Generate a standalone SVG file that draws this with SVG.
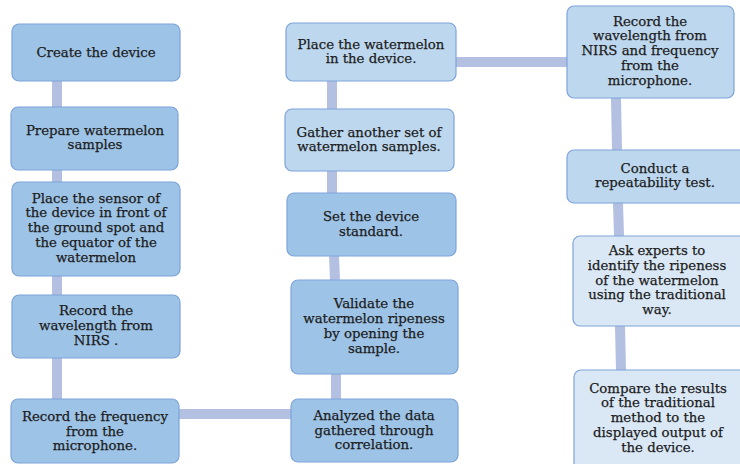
<svg xmlns="http://www.w3.org/2000/svg" width="740" height="464" viewBox="0 0 740 464">
<style>
.n rect{stroke:#7ea3da;stroke-width:1.2}
.a rect{fill:#9dc3e6}
.b rect{fill:#bdd7ee}
.c rect{fill:#dae8f6}
text{font-family:"DejaVu Serif","Liberation Serif",serif;font-size:13.3px;fill:#1c1c1c;text-anchor:middle;dominant-baseline:central;stroke:#1c1c1c;stroke-width:0.25}
.e line{stroke:#b3c0e1;stroke-width:10}
</style>
<rect width="740" height="464" fill="#fff"/>
<g class="e" id="connectors">
<line x1="57" y1="81" x2="57" y2="107"/>
<line x1="57" y1="170" x2="57" y2="182"/>
<line x1="57" y1="276" x2="57" y2="295"/>
<line x1="57" y1="358" x2="57" y2="399"/>
<line x1="179" y1="414" x2="291" y2="414"/>
<line x1="336" y1="399" x2="336" y2="374"/>
<line x1="335" y1="280" x2="334" y2="256"/>
<line x1="332" y1="193" x2="332" y2="171"/>
<line x1="332" y1="109" x2="332" y2="81"/>
<line x1="456" y1="62" x2="567" y2="62"/>
<line x1="616" y1="98" x2="617" y2="150"/>
<line x1="618" y1="203" x2="619" y2="236"/>
<line x1="620" y1="326" x2="621" y2="370"/>
</g>
<g id="n1" class="n a"><rect x="12" y="24" width="168" height="57" rx="7"/><text x="96" y="52">Create the device</text></g>
<g id="n2" class="n a"><rect x="11" y="107" width="167" height="63" rx="7"/><text x="95" y="130.1">Prepare watermelon</text><text x="95" y="144.9">samples</text></g>
<g id="n3" class="n a"><rect x="12" y="182" width="168" height="94" rx="7"/><text x="96" y="198">Place the sensor of</text><text x="96" y="212.8">the device in front of</text><text x="96" y="227.5">the ground spot and</text><text x="96" y="242.3">the equator of the</text><text x="96" y="257">watermelon</text></g>
<g id="n4" class="n a"><rect x="12" y="295" width="168" height="63" rx="7"/><text x="96" y="310.9">Record the</text><text x="96" y="325.7">wavelength from</text><text x="96" y="340.5">NIRS .</text></g>
<g id="n5" class="n a"><rect x="11" y="399" width="168" height="64" rx="7"/><text x="95" y="416.2">Record the frequency</text><text x="95" y="431">from the</text><text x="95" y="445.8">microphone.</text></g>
<g id="n6" class="n b"><rect x="286" y="23" width="170" height="58" rx="7"/><text x="371" y="44.1">Place the watermelon</text><text x="371" y="58.9">in the device.</text></g>
<g id="n7" class="n b"><rect x="285" y="109" width="169" height="62" rx="7"/><text x="369" y="132.1">Gather another set of</text><text x="369" y="146.9">watermelon samples.</text></g>
<g id="n8" class="n a"><rect x="287" y="193" width="169" height="63" rx="7"/><text x="371" y="216.6">Set the device</text><text x="371" y="231.4">standard.</text></g>
<g id="n9" class="n a"><rect x="291" y="280" width="167" height="94" rx="7"/><text x="374" y="303.8">Validate the</text><text x="374" y="318.6">watermelon ripeness</text><text x="374" y="333.4">by opening the</text><text x="374" y="348.2">sample.</text></g>
<g id="n10" class="n a"><rect x="291" y="399" width="167" height="63" rx="7"/><text x="374" y="415.2">Analyzed the data</text><text x="374" y="430">gathered through</text><text x="374" y="444.8">correlation.</text></g>
<g id="n11" class="n b"><rect x="567" y="6" width="167" height="92" rx="7"/><text x="650" y="21">Record the</text><text x="650" y="35.8">wavelength from</text><text x="650" y="50.5">NIRS and frequency</text><text x="650" y="65.3">from the</text><text x="650" y="80">microphone.</text></g>
<g id="n12" class="n b"><rect x="567" y="150" width="180" height="53" rx="7"/><text x="655" y="168.1">Conduct a</text><text x="655" y="182.9">repeatability test.</text></g>
<g id="n13" class="n c"><rect x="573" y="236" width="180" height="90" rx="7"/><text x="657" y="250.4">Ask experts to</text><text x="657" y="265.2">identify the ripeness</text><text x="657" y="280">of the watermelon</text><text x="657" y="294.8">using the traditional</text><text x="657" y="309.6">way.</text></g>
<g id="n14" class="n c"><rect x="574" y="370" width="180" height="100" rx="7"/><text x="658" y="388">Compare the results</text><text x="658" y="402.8">of the traditional</text><text x="658" y="417.5">method to the</text><text x="658" y="432.3">displayed output of</text><text x="658" y="447">the device.</text></g>
</svg>
